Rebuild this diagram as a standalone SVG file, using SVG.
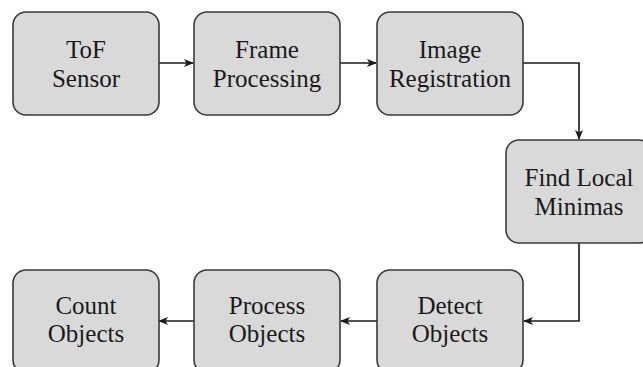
<svg xmlns="http://www.w3.org/2000/svg" width="643" height="367" viewBox="0 0 643 367">
<style>
.box{fill:#d9d9d9;stroke:#3a3a3a;stroke-width:1.6}
.t{font-family:"Liberation Serif","Times New Roman",serif;font-size:25px;fill:#1a1a1a;text-anchor:middle}
.c{fill:none;stroke:#1a1a1a;stroke-width:1.6;marker-end:url(#ah)}
</style>
<defs>
<marker id="ah" viewBox="0 0 10 10" refX="9" refY="5" markerWidth="10" markerHeight="10" markerUnits="userSpaceOnUse" orient="auto">
<path d="M0,1 L10,5 L0,9 L2.5,5 Z" fill="#1a1a1a"/>
</marker>
</defs>
<rect width="643" height="367" fill="#ffffff"/>
<g id="connectors">
<path class="c" d="M159,63 H193"/>
<path class="c" d="M340,63 H376"/>
<path class="c" d="M523,63 H579 V139"/>
<path class="c" d="M579,243 V321 H524"/>
<path class="c" d="M377,321 H341"/>
<path class="c" d="M194,321 H159"/>
</g>
<g id="tof">
<rect class="box" x="13" y="12" width="146" height="103" rx="13"/>
<text class="t" x="86" y="58">ToF</text>
<text class="t" x="86" y="87">Sensor</text>
</g>
<g id="frame">
<rect class="box" x="194" y="12" width="146" height="103" rx="13"/>
<text class="t" x="267" y="58">Frame</text>
<text class="t" x="267" y="87">Processing</text>
</g>
<g id="image">
<rect class="box" x="377" y="12" width="146" height="103" rx="13"/>
<text class="t" x="450" y="58">Image</text>
<text class="t" x="450" y="87">Registration</text>
</g>
<g id="find">
<rect class="box" x="506" y="140" width="146" height="103" rx="13"/>
<text class="t" x="579" y="186">Find Local</text>
<text class="t" x="579" y="215">Minimas</text>
</g>
<g id="detect">
<rect class="box" x="377" y="270" width="146" height="103" rx="13"/>
<text class="t" x="450" y="314">Detect</text>
<text class="t" x="450" y="342">Objects</text>
</g>
<g id="process">
<rect class="box" x="194" y="270" width="146" height="103" rx="13"/>
<text class="t" x="267" y="314">Process</text>
<text class="t" x="267" y="342">Objects</text>
</g>
<g id="count">
<rect class="box" x="13" y="270" width="146" height="103" rx="13"/>
<text class="t" x="86" y="314">Count</text>
<text class="t" x="86" y="342">Objects</text>
</g>
</svg>
